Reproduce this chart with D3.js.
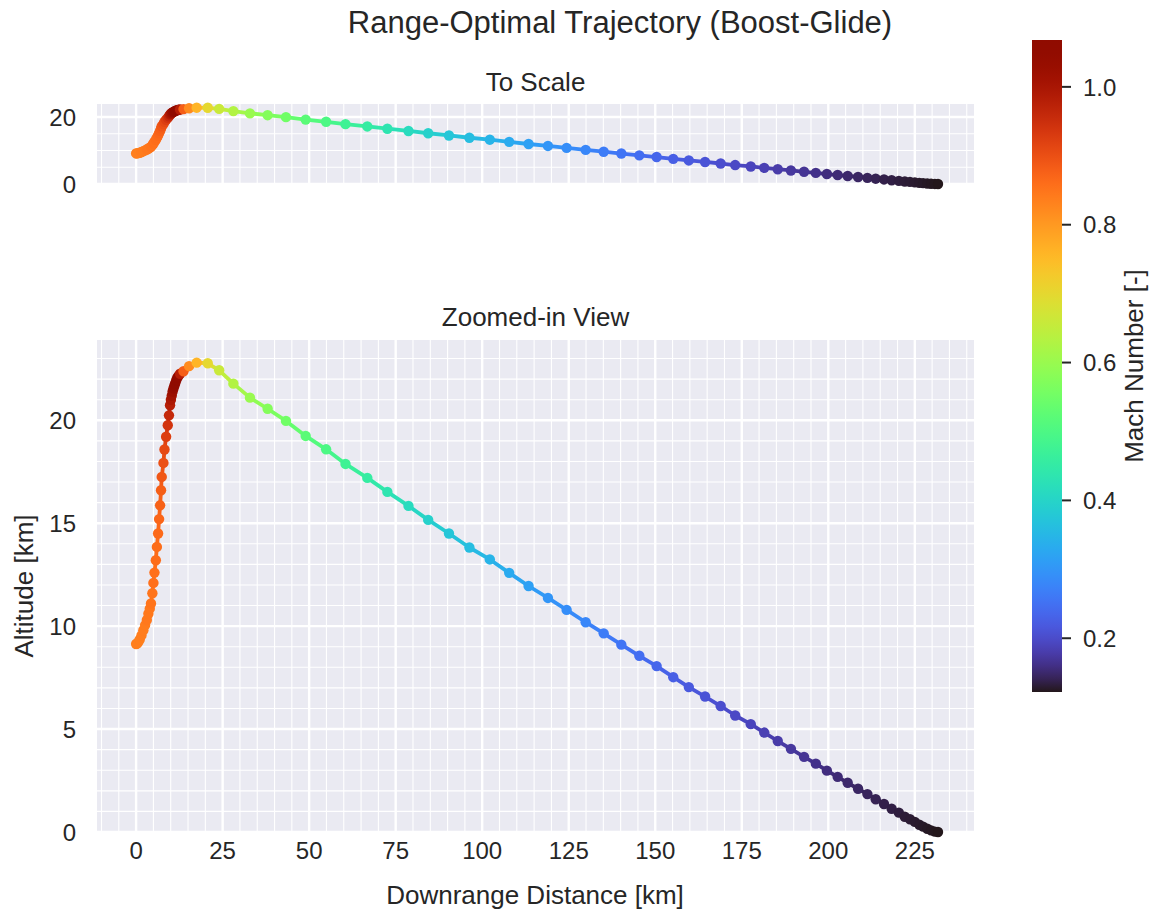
<!DOCTYPE html>
<html>
<head>
<meta charset="utf-8">
<script src="https://cdn.jsdelivr.net/npm/d3@7"></script>
<style>
  body { margin: 0; background: #fff; }
  svg { font-family: "Liberation Sans", Arial, sans-serif; }
  text { fill: #262626; }
</style>
</head>
<body>
<div id="chart"></div>
<script>
// trajectory samples
var distKm = [0, 0.25, 0.6, 1.05, 1.55, 2.1, 2.6, 3.1, 3.55, 3.95, 4.3, 4.7, 5.0, 5.3, 5.7, 6.0, 6.35, 6.64, 6.93, 7.2,
  7.4, 7.9, 8.2, 8.67, 9.15, 9.5, 9.8, 10.05, 10.3, 10.55, 10.8, 11.05, 11.3, 11.6, 11.9, 12.3, 12.7, 13.7, 15.3, 17.5,
  20.7, 24.0, 28.1, 32.9, 38.0, 43.3, 49.0, 54.9, 60.5, 66.8, 72.6, 78.7, 84.4, 90.4, 96.3, 102.2, 107.8, 113.4, 119.0, 124.4,
  129.9, 135.1, 140.2, 145.4, 150.4, 155.2, 159.7, 164.4, 168.9, 173.1, 177.6, 181.5, 185.4, 189.2, 193.0, 196.4, 199.6, 202.7, 205.6, 208.6,
  211.3, 213.7, 216.1, 218.3, 220.4, 222.1, 223.6, 225.0, 226.3, 227.4, 228.6, 229.7, 230.8, 231.7];

var altKm = [9.13, 9.15, 9.22, 9.35, 9.55, 9.8, 10.05, 10.3, 10.6, 10.85, 11.1, 11.6, 12.1, 12.6, 13.2, 13.85, 14.5, 15.2, 15.87, 16.6,
  17.25, 17.93, 18.58, 19.2, 19.76, 20.24, 20.73, 21.0, 21.2, 21.4, 21.55, 21.68, 21.8, 21.95, 22.07, 22.17, 22.26, 22.38, 22.63, 22.8,
  22.77, 22.43, 21.78, 21.1, 20.56, 19.97, 19.24, 18.59, 17.88, 17.2, 16.52, 15.84, 15.16, 14.5, 13.82, 13.24, 12.59, 11.95, 11.37, 10.79,
  10.19, 9.65, 9.1, 8.56, 8.06, 7.52, 7.04, 6.58, 6.12, 5.66, 5.24, 4.83, 4.42, 4.04, 3.65, 3.32, 2.98, 2.68, 2.39, 2.1,
  1.84, 1.59, 1.36, 1.13, 0.94, 0.74, 0.62, 0.49, 0.35, 0.26, 0.16, 0.08, 0.02, 0];

var mach = [0.835, 0.835, 0.835, 0.835, 0.84, 0.84, 0.84, 0.845, 0.845, 0.845, 0.85, 0.85, 0.855, 0.855, 0.86, 0.86, 0.865, 0.87, 0.875, 0.88,
  0.89, 0.9, 0.91, 0.925, 0.94, 0.96, 0.98, 0.995, 1.01, 1.025, 1.04, 1.05, 1.06, 1.065, 1.068, 1.04, 0.98, 0.88, 0.82, 0.76,
  0.70, 0.66, 0.63, 0.6, 0.575, 0.55, 0.52, 0.5, 0.475, 0.455, 0.435, 0.415, 0.395, 0.375, 0.36, 0.345, 0.33, 0.315, 0.30, 0.29,
  0.28, 0.265, 0.255, 0.245, 0.235, 0.226, 0.218, 0.21, 0.203, 0.196, 0.19, 0.184, 0.178, 0.172, 0.167, 0.162, 0.157, 0.153, 0.149, 0.146,
  0.143, 0.14, 0.137, 0.135, 0.133, 0.131, 0.13, 0.128, 0.127, 0.126, 0.125, 0.124, 0.123, 0.122];

var xTicks = [0, 25, 50, 75, 100, 125, 150, 175, 200, 225];
var yTicksZoom = [0, 5, 10, 15, 20];
var yTicksScale = [0, 20];
var machTicks = [0.2, 0.4, 0.6, 0.8, 1.0];
var machRange = [0.122, 1.068];

var W = 1152, H = 911;
var svg = d3.select("#chart").append("svg").attr("width", W).attr("height", H);

var color = d3.scaleSequential(d3.interpolateTurbo).domain(machRange);
var pts = distKm.map(function(d, i) { return {x: d, y: altKm[i], m: mach[i]}; });

// both panels share the x scale
var x = d3.scaleLinear().domain([-11.3, 242.1]).range([97, 974]);

function panel(y, majorY, minorStep, title, titleY) {
  var g = svg.append("g");
  var x0 = x.range()[0], x1 = x.range()[1];
  var y0 = y.range()[0], y1 = y.range()[1];

  g.append("rect").attr("x", x0).attr("y", y1).attr("width", x1 - x0).attr("height", y0 - y1)
    .attr("fill", "#eaeaf2");

  //minor grid
  var xMinor = d3.range(-10, 242.1, 5).filter(function(v) { return v % 25 !== 0; });
  var yMinor = d3.range(0, y.domain()[1], minorStep).filter(function(v) { return majorY.indexOf(v) < 0; });
  g.selectAll(".xm").data(xMinor).enter().append("line")
    .attr("x1", x).attr("x2", x).attr("y1", y1).attr("y2", y0)
    .attr("stroke", "#fff").attr("stroke-width", 1.1);
  g.selectAll(".ym").data(yMinor).enter().append("line")
    .attr("x1", x0).attr("x2", x1).attr("y1", y).attr("y2", y)
    .attr("stroke", "#fff").attr("stroke-width", 1.1);

  //major grid
  g.selectAll(".xM").data(xTicks).enter().append("line")
    .attr("x1", x).attr("x2", x).attr("y1", y1).attr("y2", y0)
    .attr("stroke", "#fff").attr("stroke-width", 2.4);
  g.selectAll(".yM").data(majorY).enter().append("line")
    .attr("x1", x0).attr("x2", x1).attr("y1", y).attr("y2", y)
    .attr("stroke", "#fff").attr("stroke-width", 2.4);

  g.selectAll(".yl").data(majorY).enter().append("text")
    .attr("x", x0 - 21).attr("y", y).attr("dy", "0.36em")
    .attr("text-anchor", "end").attr("font-size", 24)
    .text(function(d) { return d; });

  //coloured trajectory segments, then the markers
  g.selectAll(".seg").data(pts.slice(1)).enter().append("line")
    .attr("x1", function(d, i) { return x(pts[i].x); })
    .attr("y1", function(d, i) { return y(pts[i].y); })
    .attr("x2", function(d) { return x(d.x); })
    .attr("y2", function(d) { return y(d.y); })
    .attr("stroke", function(d, i) { return color((d.m + pts[i].m) / 2); })
    .attr("stroke-width", 3.8).attr("stroke-linecap", "round");
  g.selectAll(".dot").data(pts).enter().append("circle")
    .attr("cx", function(d) { return x(d.x); })
    .attr("cy", function(d) { return y(d.y); })
    .attr("r", 5.2)
    .attr("fill", function(d) { return color(d.m); });

  g.append("text").attr("x", (x0 + x1) / 2).attr("y", titleY)
    .attr("text-anchor", "middle").attr("font-size", 26).text(title);
}

var yScale = d3.scaleLinear().domain([0, 23.9]).range([184, 104]);
var yZoom = d3.scaleLinear().domain([0, 23.9]).range([832, 340]);

panel(yScale, yTicksScale, 5, "To Scale", 91);
panel(yZoom, yTicksZoom, 1, "Zoomed-in View", 326);

svg.selectAll(".xl").data(xTicks).enter().append("text")
  .attr("x", x).attr("y", 859)
  .attr("text-anchor", "middle").attr("font-size", 24)
  .text(function(d) { return d; });

svg.append("text").attr("x", 535).attr("y", 904).attr("text-anchor", "middle")
  .attr("font-size", 26).text("Downrange Distance [km]");
svg.append("text").attr("transform", "translate(33,586) rotate(-90)")
  .attr("text-anchor", "middle").attr("font-size", 26).text("Altitude [km]");

svg.append("text").attr("x", 620).attr("y", 33).attr("text-anchor", "middle")
  .attr("font-size", 31).text("Range-Optimal Trajectory (Boost-Glide)");

//colorbar
var cb = d3.scaleLinear().domain(machRange).range([692, 40]);
var grad = svg.append("defs").append("linearGradient").attr("id", "turbo")
  .attr("x1", 0).attr("x2", 0).attr("y1", 1).attr("y2", 0);
grad.selectAll("stop").data(d3.range(0, 1.0001, 0.02)).enter().append("stop")
  .attr("offset", function(d) { return d; })
  .attr("stop-color", function(d) { return d3.interpolateTurbo(d); });
svg.append("rect").attr("x", 1032).attr("y", 40).attr("width", 30).attr("height", 652)
  .attr("fill", "url(#turbo)");
svg.selectAll(".ct").data(machTicks).enter().append("line")
  .attr("x1", 1062).attr("x2", 1071).attr("y1", cb).attr("y2", cb)
  .attr("stroke", "#262626").attr("stroke-width", 2);
svg.selectAll(".cl").data(machTicks).enter().append("text")
  .attr("x", 1083).attr("y", cb).attr("dy", "0.36em").attr("font-size", 24)
  .text(function(d) { return d.toFixed(1); });
svg.append("text").attr("transform", "translate(1143,366) rotate(-90)")
  .attr("text-anchor", "middle").attr("font-size", 26).text("Mach Number [-]");
</script>
</body>
</html>
